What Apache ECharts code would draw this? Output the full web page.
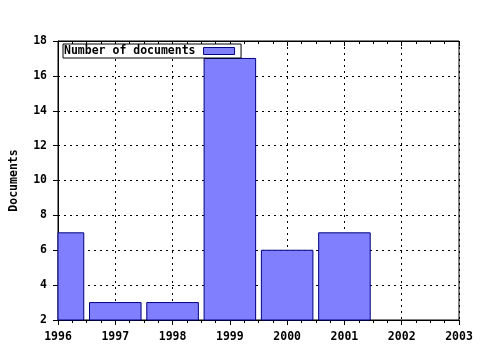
<!DOCTYPE html>
<html><head><meta charset="utf-8">
<script src="https://cdn.jsdelivr.net/npm/echarts@6/dist/echarts.min.js"></script>
<style>html,body{margin:0;padding:0;background:#fff}#c{width:480px;height:350px}</style>
</head><body><div id="c"></div>
<script>
const years = [1996, 1997, 1998, 1999, 2000, 2001];
const documents = [7, 3, 3, 17, 6, 7];
const seriesName = 'Number of documents';
const yAxisName = 'Documents';
const xMin = 1996, xMax = 2003;
const yMin = 2, yMax = 18;
const barFraction = 0.9;

const font = 'DejaVu Sans Mono';
const fs = 11.5;
const chart = echarts.init(document.getElementById('c'), null, {renderer: 'canvas'});
chart.setOption({
  animation: false,
  backgroundColor: '#fff',
  grid: {left: 57, right: 21, top: 41, bottom: 30, show: true, borderColor: '#000', borderWidth: 1},
  legend: {
    left: 63, top: 44, orient: 'horizontal', align: 'right',
    padding: [1, 6, 1, 1], itemGap: 0, itemWidth: 31, itemHeight: 7,
    borderColor: '#000', borderWidth: 1, borderRadius: 0, backgroundColor: '#fff',
    textStyle: {fontFamily: font, fontWeight: 'bold', fontSize: fs, color: '#000', padding: [0, 3, 0, 0]},
    data: [{name: seriesName, icon: 'rect', itemStyle: {color: '#8080ff', borderColor: '#000080', borderWidth: 1}}]
  },
  xAxis: [{
    type: 'value', min: xMin, max: xMax, interval: 1, position: 'bottom',
    axisLine: {show: true, onZero: false, lineStyle: {color: '#000', width: 1}},
    axisTick: {show: true, length: 5, lineStyle: {color: '#000'}},
    minorTick: {show: true, splitNumber: 4, length: 3, lineStyle: {color: '#000'}},
    axisLabel: {fontFamily: font, fontWeight: 'bold', fontSize: fs, color: '#000', margin: 11, formatter: v => String(v)},
    splitLine: {show: true, lineStyle: {color: '#000', type: [2, 4], width: 1}}
  }, {
    type: 'value', min: xMin, max: xMax, interval: 1, position: 'top',
    axisLine: {show: true, onZero: false, lineStyle: {color: '#000'}},
    axisTick: {show: true, inside: true, length: 5, lineStyle: {color: '#000'}},
    minorTick: {show: true, splitNumber: 4, length: 3, lineStyle: {color: '#000'}},
    axisLabel: {show: false}, splitLine: {show: false}
  }],
  yAxis: {
    type: 'value', min: yMin, max: yMax, interval: 2,
    name: yAxisName, nameLocation: 'middle', nameGap: 38, nameRotate: 90,
    nameTextStyle: {fontFamily: font, fontWeight: 'bold', fontSize: fs, color: '#000'},
    axisLine: {show: true, onZero: false, lineStyle: {color: '#000'}},
    axisTick: {show: true, length: 5, lineStyle: {color: '#000'}},
    axisLabel: {fontFamily: font, fontWeight: 'bold', fontSize: fs, color: '#000', margin: 11},
    splitLine: {show: true, lineStyle: {color: '#000', type: [2, 4], width: 1}}
  },
  series: [{
    name: seriesName, type: 'custom', xAxisIndex: 0,
    encode: {x: 0, y: 1},
    data: years.map((y, i) => [y, documents[i]]),
    renderItem: function (params, api) {
      const x = api.value(0), v = api.value(1);
      const p0 = api.coord([x - barFraction / 2, yMin]);
      const p1 = api.coord([x + barFraction / 2, v]);
      const rect = echarts.graphic.clipRectByRect(
        {x: p0[0], y: p1[1], width: p1[0] - p0[0], height: p0[1] - p1[1]},
        {x: params.coordSys.x, y: params.coordSys.y, width: params.coordSys.width, height: params.coordSys.height});
      return rect && {type: 'rect', shape: rect, style: {fill: '#8080ff', stroke: '#000080', lineWidth: 1}};
    }
  }]
});
</script></body></html>
